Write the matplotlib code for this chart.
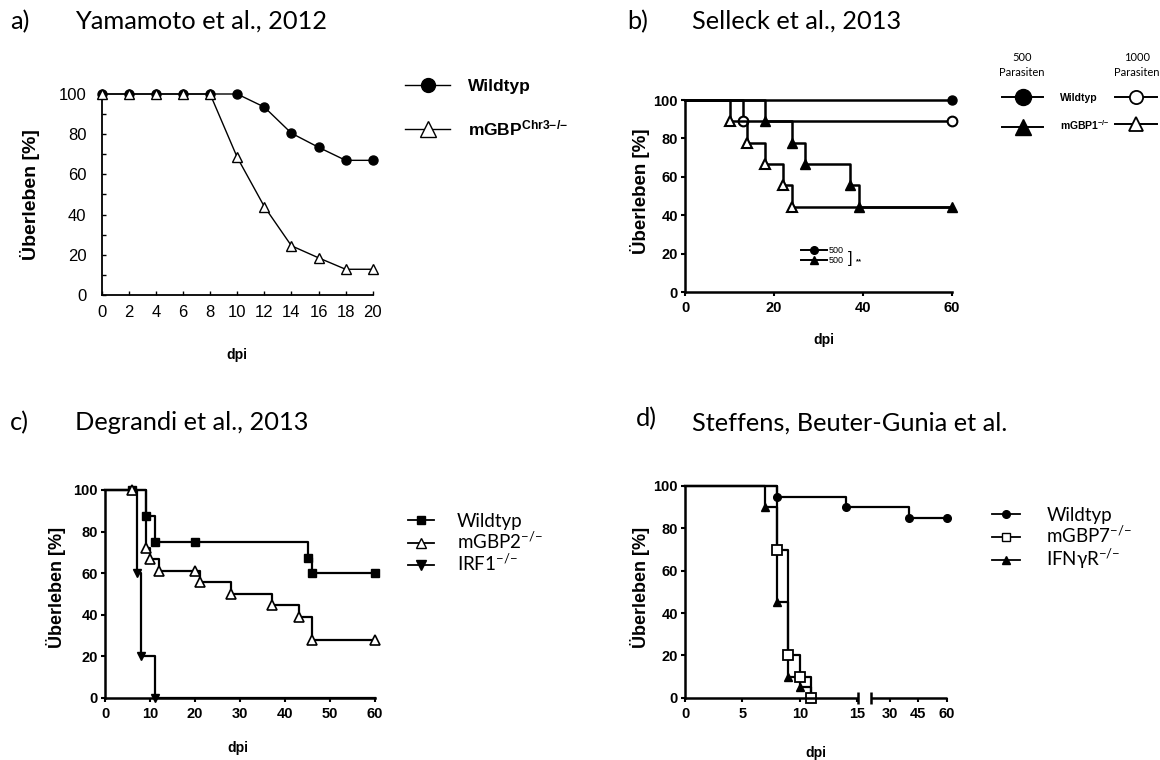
import numpy as np
import matplotlib
matplotlib.use('Agg')
import matplotlib.pyplot as plt
from matplotlib.lines import Line2D

W, H, DPI = 1160, 760, 100

# ---------------- data ----------------
# a) Yamamoto et al., 2012
a_days = [0, 2, 4, 6, 8, 10, 12, 14, 16, 18, 20]
a_wt = [100, 100, 100, 100, 100, 100, 93.5, 80.5, 73.5, 67, 67]
a_ko = [100, 100, 100, 100, 100, 68.5, 44, 24.5, 18.5, 12.8, 12.8]
a_xticks = [0, 2, 4, 6, 8, 10, 12, 14, 16, 18, 20]
a_yticks = [0, 20, 40, 60, 80, 100]
a_yminor = [10, 30, 50, 70, 90]
a_labels = ['Wildtyp', r'mGBP$^{\mathbf{Chr3{-}/{-}}}$']

# b) Selleck et al., 2013 (Kaplan-Meier steps)
b_wt500_t = [0, 60]
b_wt500_s = [100, 100]
b_wt1000_t = [0, 13, 60]
b_wt1000_s = [100, 88.9, 88.9]
b_ko500_t = [0, 18, 24, 27, 37, 39, 60]
b_ko500_s = [100, 88.9, 77.8, 66.7, 55.6, 44.4, 44.4]
b_ko1000_t = [0, 10, 14, 18, 22, 24, 60]
b_ko1000_s = [100, 88.9, 77.8, 66.7, 55.6, 44.4, 44.4]
b_xticks = [0, 20, 40, 60]
b_yticks = [0, 20, 40, 60, 80, 100]
b_labels = ['Wildtyp', r'mGBP1$^{\mathbf{-/{-}}}$']
b_doses = ['500\nParasiten', '1000\nParasiten']

# c) Degrandi et al., 2013
c_wt_t = [0, 6, 9, 11, 20, 45, 46, 60]
c_wt_s = [100, 100, 87.5, 75, 75, 67.5, 60, 60]
c_ko_t = [0, 6, 9, 10, 12, 20, 21, 28, 37, 43, 46, 60]
c_ko_s = [100, 100, 72.2, 66.7, 61.1, 61.1, 55.6, 50, 44.4, 38.9, 27.8, 27.8]
c_irf_t = [0, 7, 8, 11, 60]
c_irf_s = [100, 60, 20, 0, 0]
c_xticks = [0, 10, 20, 30, 40, 50, 60]
c_yticks = [0, 20, 40, 60, 80, 100]
c_labels = ['Wildtyp', r'mGBP2$^{-/{-}}$', r'IRF1$^{-/{-}}$']

# d) Steffens, Beuter-Gunia et al.
d_wt_t = [0, 8, 14, 40, 60]
d_wt_s = [100, 95, 90, 85, 85]
d_g7_t = [0, 8, 9, 10, 11]
d_g7_s = [100, 70, 20, 10, 0]
d_ifn_t = [0, 7, 8, 9, 10, 11]
d_ifn_s = [100, 90, 45, 10, 5, 0]
d_xticks = [0, 5, 10, 15, 30, 45, 60]
d_yticks = [0, 20, 40, 60, 80, 100]
d_labels = ['Wildtyp', r'mGBP7$^{-/{-}}$', r'IFN$\mathrm{\gamma}$R$^{-/{-}}$']
d_xknots = [0, 15.1, 20, 60]          # broken axis
d_fknots = [0, 15.1, 16.18, 22.78]

# ---------------- style ----------------
plt.rcParams['font.family'] = ['Liberation Sans', 'DejaVu Sans']
plt.rcParams['mathtext.fontset'] = 'custom'
plt.rcParams['mathtext.rm'] = 'Lato'
plt.rcParams['mathtext.it'] = 'Lato:italic'
plt.rcParams['mathtext.bf'] = 'Liberation Sans:bold'
plt.rcParams['mathtext.fallback'] = 'stixsans'

TITLE = dict(family=['Lato', 'DejaVu Sans'], size=18.3)
NARROW = ['Liberation Sans Narrow', 'Liberation Sans', 'DejaVu Sans']
LATO = ['Lato', 'DejaVu Sans']

fig = plt.figure(figsize=(W / DPI, H / DPI), dpi=DPI)
fig.patch.set_facecolor('white')


def rect(l, t, r, b):
    return [l / W, 1 - b / H, (r - l) / W, (b - t) / H]


def ftext(x, y, s, **kw):
    return fig.text(x / W, 1 - y / H, s, **kw)


def prism_axes(ax, xticks, yticks, fs=10.5):
    for s in ['top', 'right']:
        ax.spines[s].set_visible(False)
    for s in ['left', 'bottom']:
        ax.spines[s].set_linewidth(1.8)
    ax.set_yticks(yticks)
    ax.set_xticks(xticks)
    ax.tick_params(direction='out', length=3, width=1.5, pad=2)
    ax.tick_params(axis='x', pad=3.5)
    for lab in ax.get_xticklabels() + ax.get_yticklabels():
        lab.set_fontfamily(NARROW)
        lab.set_fontweight('bold')
        lab.set_fontsize(fs)


# ---------------- panel a ----------------
axA = fig.add_axes(rect(101.7, 94, 372.7, 295))
axA.plot(a_days, a_wt, color='k', lw=1.0, marker='o', ms=6.5, mfc='k', mec='k',
         clip_on=False, zorder=3)
axA.plot(a_days, a_ko, color='k', lw=1.0, marker='^', ms=7.5, mfc='white', mec='k',
         mew=1.0, clip_on=False, zorder=4)
axA.set_xlim(0, 20)
axA.set_ylim(0, 100)
axA.set_xticks(a_xticks)
axA.set_yticks(a_yticks)
axA.set_yticks(a_yminor, minor=True)
for s in ['top', 'right']:
    axA.spines[s].set_visible(False)
for s in ['left', 'bottom']:
    axA.spines[s].set_linewidth(1.3)
axA.tick_params(which='both', direction='in', length=3, width=1.0, labelsize=12)
axA.tick_params(axis='x', pad=7)
axA.tick_params(axis='y', pad=11)

hA = [Line2D([], [], color='k', lw=1.0, marker='o', ms=10, mfc='k', mec='k'),
      Line2D([], [], color='k', lw=1.0, marker='^', ms=11, mfc='white', mec='k', mew=1.0)]
fig.legend(hA, a_labels, loc='upper left', bbox_to_anchor=(405 / W, 1 - 79 / H),
           frameon=False, prop=dict(family=['Liberation Sans', 'DejaVu Sans'], weight='bold', size=12.5),
           handlelength=2.6, handletextpad=1.0, labelspacing=1.4, borderpad=0,
           borderaxespad=0, numpoints=1)

ftext(30, 195, 'Überleben [%]', rotation=90, ha='center', va='center', weight='bold', size=14)
ftext(237, 355, 'dpi', ha='center', va='center', weight='bold', size=10)
ftext(10, 29, 'a)', va='baseline', **TITLE)
ftext(75, 29, 'Yamamoto et al., 2012', va='baseline', **TITLE)

# ---------------- panel b ----------------
axB = fig.add_axes(rect(685, 100, 952, 292.3))
LWB = 1.8
axB.step(b_ko500_t, b_ko500_s, where='post', color='k', lw=LWB, marker='^', ms=7,
         mfc='k', mec='k', markevery=list(range(1, len(b_ko500_t))), clip_on=False, zorder=3)
axB.step(b_wt500_t, b_wt500_s, where='post', color='k', lw=LWB, marker='o', ms=6.5,
         mfc='k', mec='k', markevery=[1], clip_on=False, zorder=3)
axB.step(b_wt1000_t, b_wt1000_s, where='post', color='k', lw=LWB, marker='o', ms=7,
         mfc='white', mec='k', mew=1.5, markevery=[1, 2], clip_on=False, zorder=4)
axB.step(b_ko1000_t, b_ko1000_s, where='post', color='k', lw=LWB, marker='^', ms=7.5,
         mfc='white', mec='k', mew=1.5, markevery=list(range(1, len(b_ko1000_t) - 1)),
         clip_on=False, zorder=4)
axB.set_xlim(0, 60)
axB.set_ylim(0, 100)
prism_axes(axB, b_xticks, b_yticks, fs=10.5)

hB_in = [Line2D([], [], color='k', lw=1.4, marker='o', ms=5.5, mfc='k'),
         Line2D([], [], color='k', lw=1.4, marker='^', ms=6, mfc='k')]
axB.legend(hB_in, ['500', '500'], loc='upper left', bbox_to_anchor=(801 / W, 1 - 246 / H),
           bbox_transform=fig.transFigure, frameon=False,
           prop=dict(family=NARROW, size=6.5), handlelength=2.9, handletextpad=0.15,
           labelspacing=0.15, borderpad=0, borderaxespad=0, numpoints=1)
ftext(848, 258, ']', ha='left', va='center', size=12, weight='light')
ftext(856, 262, '**', ha='left', va='center', size=5.5, weight='bold')

hB1 = [Line2D([], [], color='k', lw=1.4, marker='o', ms=11.5, mfc='k'),
       Line2D([], [], color='k', lw=1.4, marker='^', ms=11.5, mfc='k')]
hB2 = [Line2D([], [], color='k', lw=1.4, marker='o', ms=9.5, mfc='white', mew=1.3),
       Line2D([], [], color='k', lw=1.4, marker='^', ms=10, mfc='white', mew=1.3)]
fig.legend(hB1, b_labels, loc='upper left', bbox_to_anchor=(1001.7 / W, 1 - 93 / H),
           frameon=False, prop=dict(weight='bold', size=7.5), handlelength=4.0,
           handletextpad=1.6, labelspacing=1.55, borderpad=0, borderaxespad=0, numpoints=1)
fig.legend(hB2, ['', ''], loc='upper left', bbox_to_anchor=(1115 / W, 1 - 93 / H),
           frameon=False, prop=dict(weight='bold', size=7.5), handlelength=4.0,
           handletextpad=0.0, labelspacing=1.55, borderpad=0, borderaxespad=0, numpoints=1)
ftext(1022, 65, b_doses[0], ha='center', va='center', family=LATO, size=8, linespacing=1.35)
ftext(1137, 65, b_doses[1], ha='center', va='center', family=LATO, size=8, linespacing=1.35)

ftext(640, 191, 'Überleben [%]', rotation=90, ha='center', va='center', weight='bold', size=13.5)
ftext(824, 340, 'dpi', ha='center', va='center', weight='bold', size=10)
ftext(627, 29, 'b)', va='baseline', **TITLE)
ftext(692, 29, 'Selleck et al., 2013', va='baseline', **TITLE)

# ---------------- panel c ----------------
axC = fig.add_axes(rect(105, 490, 375, 697.7))
LWC = 1.6
axC.step(c_irf_t, c_irf_s, where='post', color='k', lw=LWC, marker='v', ms=6,
         mfc='k', mec='k', markevery=[1, 2, 3], clip_on=False, zorder=3)
axC.step(c_wt_t, c_wt_s, where='post', color='k', lw=LWC, marker='s', ms=5.5,
         mfc='k', mec='k', markevery=list(range(1, len(c_wt_t))), clip_on=False, zorder=3)
axC.step(c_ko_t, c_ko_s, where='post', color='k', lw=LWC, marker='^', ms=6.5,
         mfc='white', mec='k', mew=1.2, markevery=list(range(1, len(c_ko_t))),
         clip_on=False, zorder=4)
axC.set_xlim(0, 60)
axC.set_ylim(0, 100)
prism_axes(axC, c_xticks, c_yticks, fs=10.5)

hC = [Line2D([], [], color='k', lw=1.3, marker='s', ms=6, mfc='k'),
      Line2D([], [], color='k', lw=1.3, marker='^', ms=6.5, mfc='white', mew=1.0),
      Line2D([], [], color='k', lw=1.3, marker='v', ms=6.5, mfc='k')]
fig.legend(hC, c_labels, loc='upper left', bbox_to_anchor=(408 / W, 1 - 513 / H),
           frameon=False, prop=dict(family=LATO, size=13.5), handlelength=1.4,
           handletextpad=1.2, labelspacing=0.05, borderpad=0, borderaxespad=0, numpoints=1)

ftext(56, 587, 'Überleben [%]', rotation=90, ha='center', va='center', weight='bold', size=13)
ftext(238, 748, 'dpi', ha='center', va='center', weight='bold', size=10)
ftext(10, 430, 'c)', va='baseline', **TITLE)
ftext(75, 430, 'Degrandi et al., 2013', va='baseline', **TITLE)

# ---------------- panel d ----------------
axD = fig.add_axes(rect(685, 486, 946.5, 697.7))


def d_fwd(x):
    return np.interp(x, d_xknots, d_fknots)


def d_inv(x):
    return np.interp(x, d_fknots, d_xknots)


axD.set_xscale('function', functions=(d_fwd, d_inv))
LWD = 1.6
axD.step(d_wt_t, d_wt_s, where='post', color='k', lw=LWD, marker='o', ms=5.5,
         mfc='k', mec='k', markevery=list(range(1, len(d_wt_t))), clip_on=False, zorder=3)
axD.step(d_ifn_t, d_ifn_s, where='post', color='k', lw=LWD, marker='^', ms=6,
         mfc='k', mec='k', markevery=list(range(1, len(d_ifn_t))), clip_on=False, zorder=3)
axD.step(d_g7_t, d_g7_s, where='post', color='k', lw=LWD, marker='s', ms=6.5,
         mfc='white', mec='k', mew=1.3, markevery=list(range(1, len(d_g7_t))),
         clip_on=False, zorder=4)
axD.set_xlim(0, 60)
axD.set_ylim(0, 100)
prism_axes(axD, d_xticks, d_yticks, fs=10.5)
axD.spines['bottom'].set_visible(False)
axD.plot([d_xknots[0], d_xknots[1]], [0, 0], color='k', lw=1.8, clip_on=False,
         solid_capstyle='butt', zorder=5)
axD.plot([d_xknots[2], d_xknots[3]], [0, 0], color='k', lw=1.8, clip_on=False,
         solid_capstyle='butt', zorder=5)
axD.plot([d_xknots[1], d_xknots[2]], [0, 0], ls='none', marker='|', ms=9, mew=1.8,
         color='k', clip_on=False, zorder=5)

hD = [Line2D([], [], color='k', lw=1.3, marker='o', ms=5.5, mfc='k'),
      Line2D([], [], color='k', lw=1.3, marker='s', ms=6, mfc='white', mew=1.0),
      Line2D([], [], color='k', lw=1.3, marker='^', ms=5.5, mfc='k')]
fig.legend(hD, d_labels, loc='upper left', bbox_to_anchor=(992 / W, 1 - 507 / H),
           frameon=False, prop=dict(family=LATO, size=13.5), handlelength=1.5,
           handletextpad=1.4, labelspacing=0.05, borderpad=0, borderaxespad=0, numpoints=1)

ftext(640, 587, 'Überleben [%]', rotation=90, ha='center', va='center', weight='bold', size=13)
ftext(816, 753, 'dpi', ha='center', va='center', weight='bold', size=10)
ftext(636, 426, 'd)', va='baseline', **TITLE)
ftext(692, 431, 'Steffens, Beuter-Gunia et al.', va='baseline', **TITLE)

fig.savefig('out.png', dpi=DPI, facecolor='white')
